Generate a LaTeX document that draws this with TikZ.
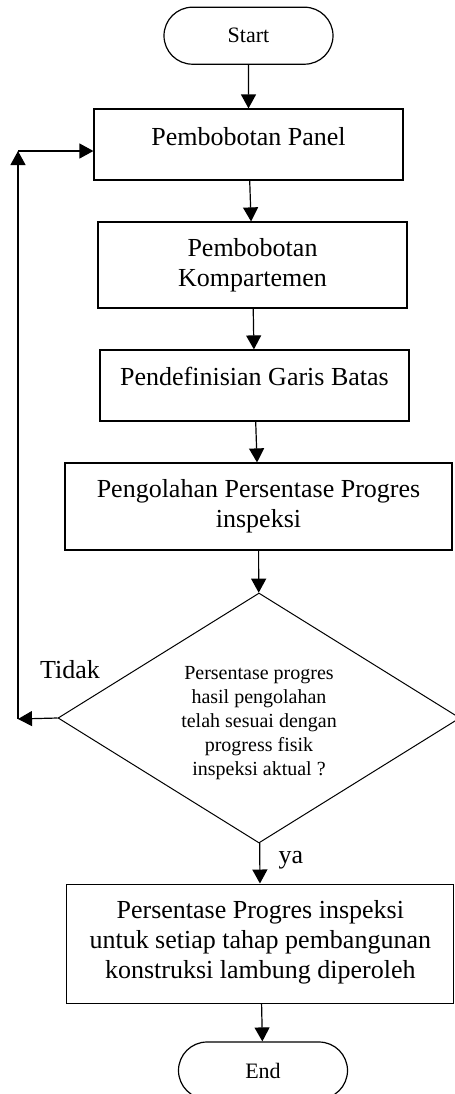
\documentclass[tikz,border=0pt]{standalone}
\usepackage{fontspec}
\setmainfont{Liberation Serif}
\usetikzlibrary{shapes.geometric,shapes.misc,arrows.meta}

\begin{document}
\begin{tikzpicture}[x=0.5pt,y=-0.5pt,
 terminal/.style={draw,rounded rectangle,line width=0.6pt,minimum width=84.5pt,minimum height=28.5pt,inner sep=0pt,font=\fontsize{11}{13}\selectfont},
 process/.style={draw,rectangle,line width=0.6pt,align=center,inner sep=0pt,font=\fontsize{13}{15}\selectfont},
 decision/.style={draw,diamond,aspect=1.6,line width=0.5pt,align=center,inner sep=0pt,minimum width=201pt,minimum height=125pt,text height=58pt,text depth=0.3pt,font=\fontsize{10}{12}\selectfont},
 flow/.style={-{Triangle[length=7pt,width=7.5pt]},line width=0.6pt},
 note/.style={font=\fontsize{13}{15}\selectfont}]
 \useasboundingbox (0,0) rectangle (455,1094);
 \node[terminal] (start) at (248.5,35.7) {Start};
 \node[process,minimum width=154.5pt,minimum height=35.5pt,text height=9pt,text depth=8.5pt] (panel) at (248.5,144.5) {Pembobotan Panel};
 \node[process,minimum width=154.5pt,minimum height=43pt,text height=24pt,text depth=3pt] (komp) at (252.5,265) {Pembobotan\\Kompartemen};
 \node[process,minimum width=154.5pt,minimum height=35.5pt,text height=9pt,text depth=9.5pt] (batas) at (254.5,385.5) {Pendefinisian Garis Batas};
 \node[process,minimum width=193.5pt,minimum height=43.5pt,text height=24pt,text depth=2.8pt] (olah) at (258.5,506.5) {Pengolahan Persentase Progres\\inspeksi};
 \node[decision] (cek) at (259,718) {Persentase progres\\hasil pengolahan\\telah sesuai dengan\\progress fisik\\inspeksi aktual ?};
 \node[process,minimum width=193.5pt,minimum height=59.7pt,text height=39pt,text depth=4.8pt] (hasil) at (260.3,943.8) {Persentase Progres inspeksi\\untuk setiap tahap pembangunan\\konstruksi lambung diperoleh};
 \node[terminal] (end) at (263,1070.5) {End};
 \node[note] (tidak) at (70,670) {Tidak};
 \node[note] (ya) at (291,860) {ya};
 \coordinate (bawah) at (18,719);
 \coordinate (atas) at (18,151);
 \draw[flow] (start) -- (panel);
 \draw[flow] (panel) -- (komp);
 \draw[flow] (komp) -- (batas);
 \draw[flow] (batas) -- (olah);
 \draw[flow] (olah) -- (cek);
 \draw[flow] (cek) -- (hasil);
 \draw[flow] (hasil) -- (end);
 \draw[flow] (cek.west) -- (bawah);
 \draw[flow] (bawah) -- (atas);
 \draw[flow] (atas) -- (atas -| panel.west);
\end{tikzpicture}
\end{document}
